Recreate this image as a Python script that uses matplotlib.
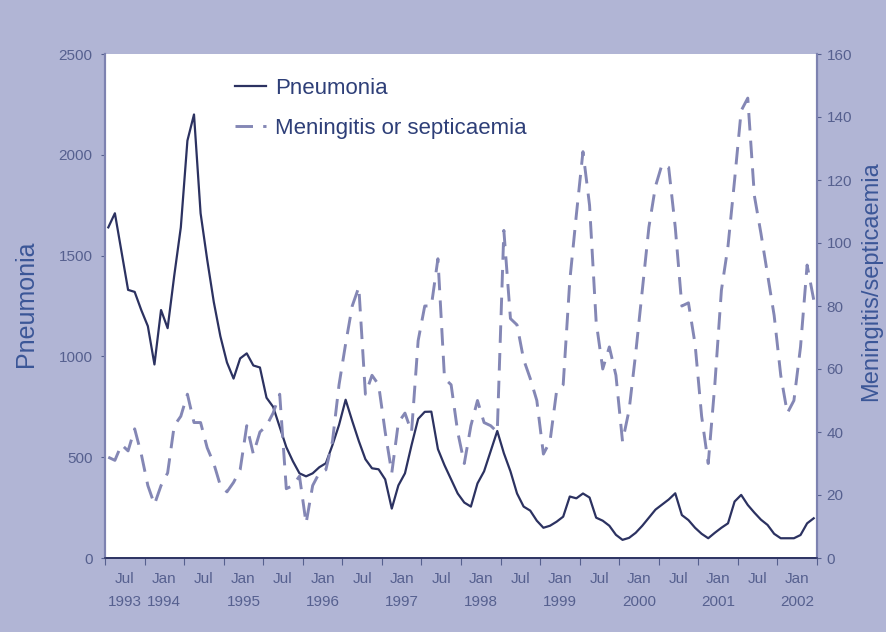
import matplotlib
matplotlib.use("Agg")
import matplotlib.pyplot as plt
import numpy as np

plt.rcParams['font.family'] = ['Liberation Sans', 'DejaVu Sans']

# Monthly series, starting July 1993
pneumonia = [1640, 1710, 1520, 1330, 1320, 1230, 1150, 960, 1230, 1140,
             1400, 1640, 2070, 2200, 1710, 1480, 1270, 1100, 970, 890,
             990, 1015, 955, 945, 795, 750, 650, 550, 480, 420,
             405, 420, 450, 470, 560, 660, 785, 680, 580, 490,
             445, 440, 390, 245, 360, 420, 560, 690, 725, 726,
             540, 460, 390, 320, 275, 255, 370, 430, 530, 630,
             520, 430, 320, 255, 235, 185, 150, 160, 180, 205,
             305, 296, 320, 300, 200, 185, 160, 115, 90, 100,
             125, 160, 200, 240, 265, 290, 321, 213, 188, 150,
             120, 98, 125, 150, 172, 280, 313, 263, 225, 190,
             164, 120, 98, 98, 98, 114, 172, 197]

meningitis = [32, 31, 36, 34, 41, 33, 23, 17, 23, 27,
              42, 45, 52, 43, 43, 35, 30, 23, 21, 24,
              28, 42, 33, 40, 42, 46, 52, 22, 23, 26,
              11, 23, 27, 28, 37, 55, 68, 80, 86, 52,
              58, 55, 40, 27, 43, 46, 40, 69, 80, 80,
              95, 57, 55, 40, 30, 42, 50, 43, 42, 40,
              104, 76, 74, 63, 57, 50, 33, 37, 53, 55,
              88, 109, 129, 112, 75, 60, 67, 58, 37, 47,
              65, 85, 105, 118, 125, 124, 105, 80, 81, 68,
              45, 30, 55, 85, 99, 120, 142, 146, 115, 103,
              90, 77, 58, 46, 50, 67, 93, 82]

x_labels = ["Jul\n1993", "Jan\n1994", "Jul", "Jan\n1995", "Jul", "Jan\n1996",
            "Jul", "Jan\n1997", "Jul", "Jan\n1998", "Jul", "Jan\n1999",
            "Jul", "Jan\n2000", "Jul", "Jan\n2001", "Jul", "Jan\n2002"]

bg = '#b1b5d5'
navy = '#2c3261'
dash_col = '#8487b5'
tick_col = '#56608f'
label_col = '#3b5697'

fig = plt.figure(figsize=(8.87, 6.32), dpi=100, facecolor=bg)
ax = fig.add_axes([105/887, 1-558/632, (817-105)/887, (558-54)/632])
ax.set_facecolor('white')
ax2 = ax.twinx()

xs = np.arange(len(pneumonia)) + 0.5
l1, = ax.plot(xs, pneumonia, color=navy, lw=1.6, label='Pneumonia')
l2, = ax2.plot(xs, meningitis, color=dash_col, lw=2.1, dashes=(6, 3.5),
               label='Meningitis or septicaemia')

ax.set_xlim(0, 108)
ax.set_ylim(0, 2500)
ax2.set_ylim(0, 160)
ax.set_yticks(np.arange(0, 2501, 500))
ax2.set_yticks(np.arange(0, 161, 20))

ax.set_xticks(np.arange(0, 109, 6))
ax.set_xticklabels([])
ax.set_xticks(np.arange(3, 108, 6), minor=True)
ax.set_xticklabels(x_labels, minor=True, linespacing=1.85)
ax.tick_params(axis='x', which='major', length=5, color=tick_col, direction='out')
ax.tick_params(axis='x', which='minor', length=0, pad=10, labelsize=11,
               labelcolor=tick_col)
ax.tick_params(axis='y', length=3, color=tick_col, labelsize=11,
               labelcolor=tick_col, pad=6)
ax2.tick_params(axis='y', length=3, color=tick_col, labelsize=11,
                labelcolor=tick_col, pad=4)

for a in (ax, ax2):
    a.spines['top'].set_visible(False)
    a.spines['left'].set_color('#7d82b0')
    a.spines['right'].set_color('#7d82b0')
    a.spines['left'].set_linewidth(1.5)
    a.spines['right'].set_linewidth(1.5)
    a.spines['bottom'].set_color(navy)
    a.spines['bottom'].set_linewidth(1.2)

ax.set_ylabel('Pneumonia', fontsize=18, color=label_col)
ax.yaxis.set_label_coords(-0.094, 0.505)
ax2.set_ylabel('Meningitis/septicaemia', fontsize=17, color=label_col)
ax2.yaxis.set_label_coords(1.061, 0.55)

leg = ax.legend(handles=[l1, l2], loc='upper left',
                bbox_to_anchor=(0.183, 0.952), frameon=False, fontsize=16,
                borderpad=0, borderaxespad=0,
                handlelength=1.4, handletextpad=0.4, labelspacing=0.85,
                labelcolor='#2e3f78')

fig.savefig('out.png', dpi=100, facecolor=bg)
